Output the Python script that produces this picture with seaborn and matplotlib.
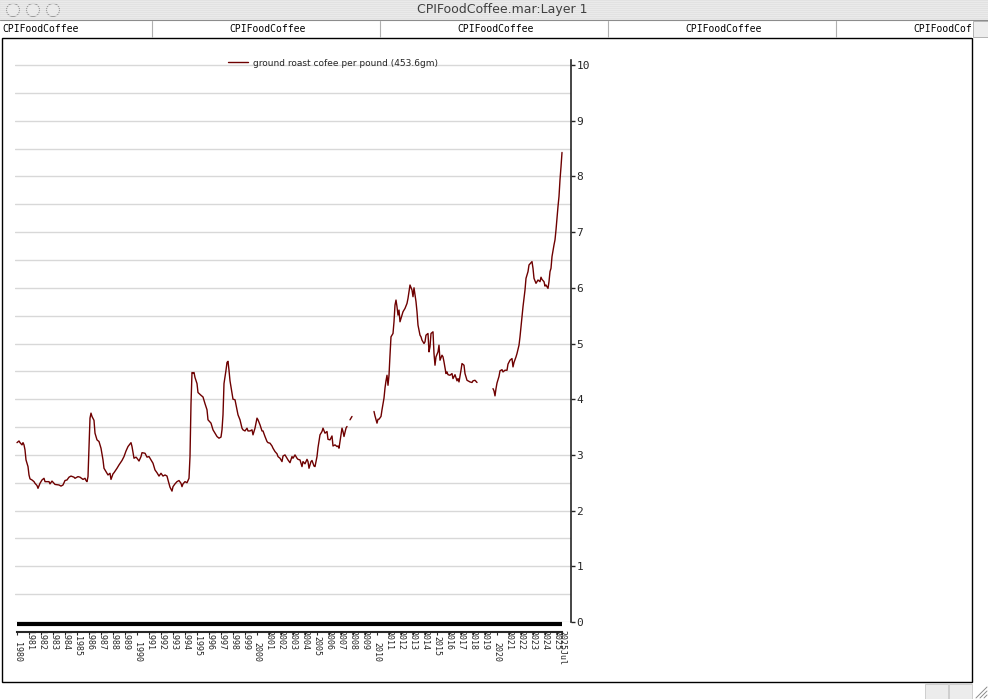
import numpy as np
import pandas as pd
import matplotlib
matplotlib.use("Agg")
import matplotlib.pyplot as plt
import matplotlib.transforms as mtransforms
import seaborn as sns
from matplotlib.patches import Rectangle, Circle
from matplotlib.lines import Line2D

# months since Jan 1980, NaN marks a break in the series
month_offsets = [
    0, 2, 3, 5, 6, 7, 8, 9, 11, 12, 13, 15, 17, 18, 20, 21, 23, 25, 27, 28,
    32, 33, 35, 37, 38, 42, 44, 46, 48, 50, 52, 54, 57, 58, 61, 63, 66, 68, 69, 70,
    71, 72, 73, 74, 75, 77, 78, 80, 82, 84, 86, 87, 89, 91, 93, 94, 96, 97, 100, 102,
    105, 107, 109, 111, 114, 115, 117, 119, 120, 122, 124, 125, 128, 130, 132, 134, 136, 138, 140, 142,
    144, 146, 148, 150, 151, 153, 155, 156, 158, 160, 162, 164, 165, 166, 168, 170, 172, 173, 174, 175,
    176, 177, 178, 180, 181, 184, 186, 188, 190, 191, 194, 196, 198, 200, 202, 204, 205, 206, 207, 209,
    210, 211, 212, 213, 215, 216, 218, 220, 221, 223, 225, 226, 228, 230, 231, 233, 235, 236, 238, 240,
    241, 243, 245, 246, 248, 250, 251, 253, 255, 256, 258, 260, 261, 263, 265, 266, 268, 270, 271, 273,
    275, 276, 278, 280, 281, 283, 285, 286, 288, 290, 291, 292, 294, 295, 297, 298, 300, 301, 303, 305,
    306, 308, 310, 311, 313, 315, 316, 318, 320, 321, 322, 324, 325, 326, 327, 329, 330, 331, 333, 335,
    346,
    357, 358, 360, 361, 362, 364, 365, 367, 368, 369, 370, 371, 372, 373, 374, 376, 377, 378, 379, 380,
    381, 382, 383, 385, 386, 388, 390, 391, 393, 395, 396, 397, 399, 400, 401, 403, 404, 405, 407, 408,
    409, 411, 412, 413, 414, 416, 417, 418, 419, 421, 422, 423, 425, 426, 427, 429, 430, 431, 433, 435,
    436, 438, 440, 441, 442, 444, 445, 447, 448, 450, 451, 453, 455, 456, 458, 460,
    468,
    476, 477, 478, 479, 480, 482, 483, 485, 486, 488, 490, 491, 493, 495, 496, 497, 499, 500, 502, 503,
    504, 505, 506, 507, 508, 509, 511, 512, 513, 515, 516, 517, 519, 520, 521, 523, 524, 525, 527, 528,
    529, 531, 532, 533, 534, 535, 537, 538, 539, 540, 541, 542, 543, 544, 545,
]
coffee_price = [
    3.22, 3.25, 3.22, 3.18, 3.22, 3.18, 3.09, 2.91, 2.79, 2.64, 2.57, 2.55, 2.52, 2.49, 2.45, 2.40, 2.49, 2.55, 2.58, 2.52,
    2.52, 2.48, 2.53, 2.49, 2.47, 2.46, 2.44, 2.46, 2.54, 2.55, 2.60, 2.62, 2.60, 2.58, 2.61, 2.60, 2.56, 2.58, 2.54, 2.52,
    2.61, 3.15, 3.66, 3.75, 3.69, 3.62, 3.39, 3.27, 3.24, 3.12, 2.91, 2.76, 2.70, 2.64, 2.67, 2.56, 2.66, 2.68, 2.76, 2.82,
    2.90, 2.97, 3.07, 3.15, 3.22, 3.15, 2.94, 2.96, 2.94, 2.89, 2.97, 3.04, 3.03, 2.96, 2.97, 2.91, 2.85, 2.73, 2.68, 2.62,
    2.67, 2.62, 2.64, 2.62, 2.55, 2.42, 2.35, 2.43, 2.48, 2.52, 2.54, 2.49, 2.43, 2.48, 2.52, 2.50, 2.58, 2.97, 3.92, 4.48,
    4.47, 4.48, 4.39, 4.28, 4.12, 4.07, 4.04, 3.92, 3.81, 3.63, 3.57, 3.45, 3.39, 3.33, 3.30, 3.32, 3.45, 3.72, 4.28, 4.52,
    4.66, 4.68, 4.52, 4.33, 4.11, 4.00, 3.99, 3.81, 3.72, 3.63, 3.48, 3.45, 3.43, 3.48, 3.43, 3.43, 3.45, 3.36, 3.48, 3.66,
    3.63, 3.54, 3.43, 3.43, 3.33, 3.24, 3.22, 3.21, 3.16, 3.12, 3.06, 3.02, 2.97, 2.94, 2.88, 2.98, 3.00, 2.94, 2.91, 2.86,
    2.97, 2.94, 3.00, 2.94, 2.92, 2.91, 2.79, 2.88, 2.84, 2.92, 2.88, 2.76, 2.88, 2.90, 2.80, 2.79, 2.97, 3.13, 3.36, 3.42,
    3.48, 3.39, 3.42, 3.28, 3.27, 3.34, 3.16, 3.18, 3.15, 3.16, 3.12, 3.36, 3.48, 3.42, 3.33, 3.48, 3.51, np.nan, 3.63, 3.69,
    np.nan,
    3.78, 3.70, 3.57, 3.64, 3.64, 3.69, 3.81, 4.02, 4.20, 4.33, 4.43, 4.25, 4.43, 4.79, 5.12, 5.18, 5.39, 5.69, 5.78, 5.66,
    5.51, 5.60, 5.39, 5.51, 5.57, 5.63, 5.72, 5.81, 6.05, 5.96, 5.84, 6.00, 5.75, 5.57, 5.33, 5.15, 5.12, 5.06, 5.00, 5.03,
    5.15, 5.18, 4.85, 4.94, 5.18, 5.21, 4.82, 4.61, 4.76, 4.85, 4.97, 4.70, 4.79, 4.76, 4.67, 4.46, 4.49, 4.44, 4.43, 4.46,
    4.37, 4.44, 4.33, 4.37, 4.31, 4.52, 4.64, 4.61, 4.46, 4.34, 4.33, 4.31, 4.30, 4.33, 4.34, 4.30,
    np.nan,
    4.19, 4.15, 4.06, 4.19, 4.29, 4.41, 4.51, 4.53, 4.49, 4.52, 4.52, 4.63, 4.70, 4.73, 4.58, 4.66, 4.76, 4.82, 4.97, 5.12,
    5.30, 5.48, 5.66, 5.81, 5.96, 6.17, 6.29, 6.41, 6.43, 6.47, 6.35, 6.17, 6.08, 6.11, 6.14, 6.11, 6.19, 6.15, 6.11, 6.03,
    6.05, 5.99, 6.11, 6.29, 6.35, 6.56, 6.77, 6.86, 7.04, 7.25, 7.46, 7.64, 7.94, 8.17, 8.43,
]

series_label = "ground roast cofee per pound (453.6gm)"
window_title = "CPIFoodCoffee.mar:Layer 1"
header_label = "CPIFoodCoffee"
year_ticks = list(range(1980, 2026))
last_label = "2025Jul"
y_ticks = list(range(0, 11))

line_color = "#6e0000"
mono = "DejaVu Sans Mono"
W, H = 988, 699

df = pd.DataFrame({"month": month_offsets, "price": coffee_price})
df["year"] = 1980 + df["month"] / 12
df["segment"] = df["price"].isna().cumsum()
df = df.dropna()

sns.set_style("white")
plt.rcParams["font.family"] = ["DejaVu Sans"]

fig = plt.figure(figsize=(W / 100, H / 100), dpi=100)
fig.patch.set_facecolor("white")

# window chrome drawn in pixel space
bg = fig.add_axes([0, 0, 1, 1], zorder=0)
bg.set_xlim(0, W)
bg.set_ylim(H, 0)
bg.axis("off")
bg.add_patch(Rectangle((0, 0), W, 20, facecolor="#e2e2e2", edgecolor="none"))
for yy in range(1, 20, 2):
    bg.plot([0, W], [yy, yy], color="#ececec", lw=0.6)
bg.plot([0, W], [20, 20], color="#8c8c8c", lw=0.8)
for cx in (13, 33, 53):
    bg.add_patch(Circle((cx, 10), 6.5, facecolor="#e8e8e8", edgecolor="#9b9b9b", lw=0.8))
bg.text(W / 2 + 8, 10, window_title, ha="center", va="center", fontsize=9, color="#404040")
for sx in (152, 380, 608, 836):
    bg.plot([sx, sx], [21, 37], color="#b0b0b0", lw=0.8)
for tx in (2, 229, 457, 685, 913):
    bg.text(tx, 29, header_label, ha="left", va="center", fontsize=7,
            family=mono, color="black", zorder=3)
# header scroll box hides the clipped end of the last cell
bg.add_patch(Rectangle((973, 21), 15, 16, facecolor="#ededed", edgecolor="#a8a8a8",
                       lw=0.6, zorder=5))
bg.add_patch(Rectangle((972, 20.5), 16, 17, facecolor="white", edgecolor="none", zorder=4))
for bx in (925, 949):
    bg.add_patch(Rectangle((bx, 684), 23, 15, facecolor="#ececec", edgecolor="#c8c8c8", lw=0.6))
for k in range(3):
    bg.plot([976 + 4 * k, 987], [698, 687 + 4 * k], color="#8a8a8a", lw=0.7)
bg.add_patch(Rectangle((2, 38), 970, 644, facecolor="white", edgecolor="black", lw=1.0))

# chart axes: x in decimal years, 1 px per month
ax = fig.add_axes([15 / W, (H - 622) / H, (571 - 15) / W, (622 - 60) / H], zorder=1)
ax.patch.set_alpha(0)
x0 = 1980 - 2 / 12
x1 = 1980 + 554 / 12
ax.set_xlim(x0, x1)
ax.set_ylim(0, (622 - 60) / 55.7)

sns.lineplot(data=df, x="year", y="price", units="segment", estimator=None,
             sort=False, color=line_color, lw=1.0, ax=ax, legend=False)

ax.set_yticks(y_ticks)
ax.set_yticks(np.arange(0.5, 10.5, 1.0), minor=True)
ax.grid(axis="y", which="both", color="#d8d8d8", lw=1.0)
ax.set_axisbelow(True)
ax.yaxis.tick_right()
ax.tick_params(axis="y", which="major", direction="out", length=3, width=1,
               pad=1, labelsize=8, right=True, left=False)
ax.tick_params(axis="y", which="minor", length=0)
for lab in ax.get_yticklabels():
    lab.set_family(mono)
ax.set_xlabel("")
ax.set_ylabel("")

for side in ("top", "left"):
    ax.spines[side].set_visible(False)
ax.spines["right"].set_linewidth(1.2)
ax.spines["bottom"].set_position(("outward", 7.2))
ax.spines["bottom"].set_linewidth(1.5)
end_year = df["year"].iloc[-1]
ax.spines["bottom"].set_bounds(1980, end_year)

tick_pos = year_ticks + [end_year]
ax.set_xticks(tick_pos)
ax.set_xticklabels([])
ax.tick_params(axis="x", direction="out", length=2.5, width=0.8, bottom=True)

# thick band along the zero line
band_tr = mtransforms.offset_copy(ax.transData, fig=fig, x=0, y=-2, units="dots")
ax.plot([1980, end_year], [0, 0], color="black", lw=3.0, transform=band_tr,
        clip_on=False, solid_capstyle="butt")

labels = [str(y) for y in year_ticks] + [last_label]
for pos, lab in zip(tick_pos, labels):
    yr = int(lab[:4])
    if lab == last_label or yr == 2025:
        off = 5.4
    elif yr % 10 == 0:
        off = 14.2
    elif yr % 5 == 0:
        off = 10.0
    else:
        off = 5.4
    ax.annotate(lab, xy=(pos, 0), xycoords=("data", "axes fraction"),
                xytext=(0, -off), textcoords="offset points", rotation=-90,
                ha="center", va="top", fontsize=6, family=mono)

handle = Line2D([], [], color=line_color, lw=1.0)
ax.legend([handle], [series_label], loc="center left",
          bbox_to_anchor=((228 - 15) / 556, (622 - 63) / 562),
          frameon=False, fontsize=6.5, handlelength=2.2, handletextpad=0.6,
          borderpad=0, borderaxespad=0)

fig.savefig("out.png", dpi=100)
